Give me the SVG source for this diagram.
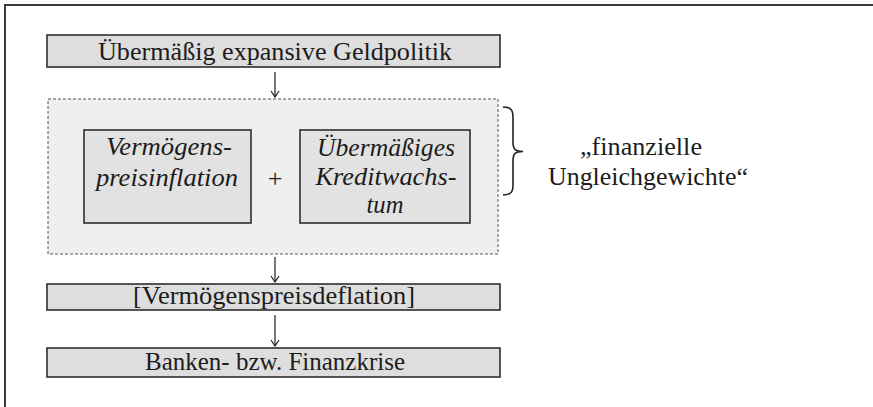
<svg xmlns="http://www.w3.org/2000/svg" width="873" height="407" viewBox="0 0 873 407">
  <defs>
    <style>
      .frame { fill: none; stroke: #3a3a3a; stroke-width: 2; }
      .box { fill: #dedede; stroke: #2e2e2e; stroke-width: 1.6; }
      .group { fill: #efefef; stroke: #555; stroke-width: 1; stroke-dasharray: 3 2; }
      .inner { fill: #e2e2e2; stroke: #2e2e2e; stroke-width: 1.6; }
      .edge { fill: none; stroke: #1c1c1c; stroke-width: 1.2; }
      .brace { fill: none; stroke: #222; stroke-width: 1.6; }
    </style>
    <marker id="head" viewBox="0 0 10 10" refX="9" refY="5" markerWidth="10" markerHeight="10" markerUnits="userSpaceOnUse" orient="auto">
      <path d="M3,1 L9,5 L3,9" fill="none" stroke="#1c1c1c" stroke-width="1.2"/>
    </marker>
  </defs>

  <rect width="873" height="407" fill="#ffffff"/>

  <!-- outer frame: only the top and left edges fall inside the canvas -->
  <path class="frame" d="M5,407 L5,5 L873,5"/>

  <g font-family="Liberation Serif, serif" font-size="26" fill="#1c1c1c">
    <!-- top cause -->
    <g id="geldpolitik">
      <rect class="box" x="47" y="35" width="453" height="32"/>
      <text x="275" y="60" text-anchor="middle" textLength="354" lengthAdjust="spacingAndGlyphs">Übermäßig expansive Geldpolitik</text>
    </g>

    <!-- dashed grouping of the two imbalances -->
    <g id="ungleichgewichte-gruppe">
      <rect class="group" x="48" y="99" width="450" height="155"/>
    </g>

    <g id="vermoegenspreisinflation" font-style="italic">
      <rect class="inner" x="84" y="130" width="167" height="93"/>
      <text x="169" y="155" text-anchor="middle" textLength="126" lengthAdjust="spacingAndGlyphs">Vermögens-</text>
      <text x="167" y="186" text-anchor="middle" textLength="142" lengthAdjust="spacingAndGlyphs">preisinflation</text>
    </g>

    <g id="plus">
      <text x="275" y="187" text-anchor="middle">+</text>
    </g>

    <g id="kreditwachstum" font-style="italic">
      <rect class="inner" x="300" y="130" width="170" height="93"/>
      <text x="386" y="156" text-anchor="middle" textLength="138" lengthAdjust="spacingAndGlyphs">Übermäßiges</text>
      <text x="386" y="185" text-anchor="middle" textLength="141" lengthAdjust="spacingAndGlyphs">Kreditwachs-</text>
      <text x="385" y="213" text-anchor="middle" textLength="37" lengthAdjust="spacingAndGlyphs">tum</text>
    </g>

    <!-- curly brace and its label -->
    <g id="finanzielle-ungleichgewichte">
      <path class="brace" d="M503,107 C512,107 513,111 513,118 L513,142 C513,149 515,151.5 523,151.5 C515,151.5 513,154 513,161 L513,184 C513,191 512,195 503,195"/>
      <text x="580" y="155" textLength="122" lengthAdjust="spacingAndGlyphs">„finanzielle</text>
      <text x="548" y="185" textLength="200" lengthAdjust="spacingAndGlyphs">Ungleichgewichte“</text>
    </g>

    <g id="vermoegenspreisdeflation">
      <rect class="box" x="47" y="284" width="453" height="26"/>
      <text x="274" y="304" text-anchor="middle" textLength="282" lengthAdjust="spacingAndGlyphs">[Vermögenspreisdeflation]</text>
    </g>

    <g id="finanzkrise">
      <rect class="box" x="47" y="348" width="453" height="29"/>
      <text x="275" y="370" text-anchor="middle" textLength="260" lengthAdjust="spacingAndGlyphs">Banken- bzw. Finanzkrise</text>
    </g>
  </g>

  <!-- causal arrows -->
  <g id="connectors">
    <line class="edge" x1="275" y1="72" x2="275" y2="97" marker-end="url(#head)"/>
    <line class="edge" x1="275" y1="257" x2="275" y2="282" marker-end="url(#head)"/>
    <line class="edge" x1="275" y1="315" x2="275" y2="346" marker-end="url(#head)"/>
  </g>
</svg>
